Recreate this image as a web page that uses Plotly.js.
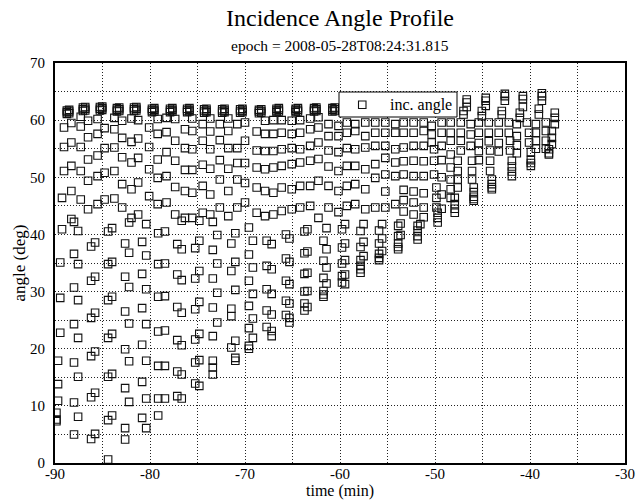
<!DOCTYPE html>
<html>
<head>
<meta charset="utf-8">
<script src="https://cdn.plot.ly/plotly-3.0.1.min.js"></script>
<style>html,body{margin:0;padding:0;background:#fff;}#chart{width:638px;height:501px;}</style>
</head>
<body>
<div id="chart"></div>
<script>
// Each entry of colTime is the time (min) of one column of samples; colAngles holds the incidence angles (deg) read at that time.
const colTime = [
  -89.85, -89.68, -89.45, -89.26, -89.05,
  -88.00, -87.57, -88.28, -87.29,
  -86.20, -85.78, -86.52, -85.52,
  -84.41, -83.99, -84.78, -83.75,
  -82.62, -82.20, -82.93, -81.95,
  -80.83, -80.40, -81.25, -80.09,
  -79.14, -78.43, -79.19, -78.26,
  -77.13, -76.66, -77.35, -76.32,
  -75.24, -74.81, -75.55, -74.45,
  -73.39, -72.92, -73.66, -72.65,
  -71.44, -71.02, -71.76, -70.81, -70.00,
  -69.59, -69.17, -68.77,
  -67.72, -67.19, -67.89, -67.01,
  -65.69, -65.32, -66.14, -65.08,
  -63.74, -63.43, -64.20, -63.14,
  -61.74, -61.42, -62.27, -61.21, -60.16,
  -59.79, -59.47, -59.28, -58.68, -58.40,
  -57.84, -57.52, -57.34, -56.78, -56.29,
  -55.89, -55.57, -55.23, -54.78, -54.18,
  -53.88, -53.62, -53.30, -52.78, -52.25,
  -51.83, -51.54, -51.19, -50.67,
  -50.35, -50.10, -49.85, -49.72, -49.30, -48.66,
  -48.35, -47.92, -47.61, -47.29, -47.00, -46.66,
  -45.92, -46.10, -46.24, -45.39, -45.07, -44.66,
  -44.02, -44.20, -44.34, -43.29, -42.97, -42.65,
  -41.91, -42.10, -42.23, -41.39, -41.07, -40.75,
  -39.91, -40.10, -40.33, -39.38, -39.07, -38.75,
  -38.01, -38.33, -37.70, -37.39
];
const colAngles = [
  [7.3, 7.6, 8.8], [10.9, 13.8, 17.9], [22.8, 28.9, 35.1], [40.9, 46.4], [51.1, 55.3, 58.7],
  [5.0, 10.6, 17.6, 24.3, 30.7, 36.6, 42.2], [8.1, 15.1, 21.9, 28.5, 34.8, 40.6], [42.7, 47.6, 52.0, 56.1, 59.5], [46.1, 51.1, 55.3, 58.9, 60.6],
  [4.2, 11.5, 18.7, 25.4, 31.9, 37.9], [5.1, 12.3, 19.5, 26.3, 32.6, 38.6], [44.4, 49.4, 53.1, 57.0, 59.9], [45.3, 50.2, 53.8, 57.6, 60.2],
  [0.6, 7.5, 15.1, 21.9, 28.5, 34.8, 40.5], [8.3, 15.6, 22.6, 29.1, 35.2, 41.1], [46.1, 50.8, 55.1, 58.6], [46.3, 51.1, 55.2, 58.4, 60.4],
  [4.1, 6.1, 13.1, 19.9, 26.5, 32.6, 38.4], [10.7, 17.8, 24.4, 30.8, 36.8, 42.1], [44.7, 48.8, 53.5, 56.9, 59.9], [42.9, 47.9, 52.6, 56.2, 60.3],
  [7.9, 14.2, 20.7, 27.1, 33.1, 38.7], [6.1, 11.3, 17.9, 24.3, 30.4, 36.3, 41.8], [43.5, 49.1, 53.4, 56.8, 60.0], [46.7, 51.4, 55.3, 58.7],
  [8.3, 11.3, 17.0, 23.0, 29.1, 34.8, 40.2], [11.3, 17.0, 23.2, 29.2, 34.9, 40.5], [45.3, 49.9, 53.1, 57.6, 60.2], [45.6, 50.2, 54.4, 57.9, 60.4],
  [11.7, 16.0, 21.5, 27.3, 33.0, 38.3], [11.3, 15.5, 20.6, 26.3, 32.0, 37.4, 42.4], [43.5, 48.3, 52.9, 56.4, 60.2], [42.9, 47.6, 51.3, 55.1, 58.4],
  [13.9, 17.6, 21.6, 26.9, 32.3, 37.6], [13.5, 18.0, 22.6, 28.2, 33.6, 38.9, 42.4], [42.9, 47.3, 51.3, 54.9, 58.1, 60.3], [43.8, 48.5, 52.2, 56.4, 59.3],
  [15.5, 16.7, 17.9, 22.2, 27.2, 32.3, 37.3, 42.2], [24.6, 29.8, 34.9, 39.9], [43.5, 47.0, 51.5, 54.9, 58.0, 60.3], [44.7, 49.6, 53.0, 56.5, 59.3],
  [20.2, 25.7, 27.0, 33.6, 38.4], [17.9, 18.4, 21.4, 30.3, 35.2, 40.2], [43.2, 47.6, 51.5, 55.1, 58.1, 60.3], [44.7, 49.6, 52.5, 55.1, 59.3], [45.6, 49.0, 52.5, 56.4, 59.6],
  [20.0, 20.5, 23.6, 27.5, 31.9, 36.5, 41.2], [21.9, 25.3, 29.6, 34.2, 38.9], [43.8, 48.2, 51.7, 54.7, 58.0],
  [23.8, 26.7, 30.4, 34.5, 38.9], [22.2, 23.1, 26.0, 29.6, 33.9, 38.3], [43.2, 47.6, 51.4, 54.6, 57.6, 59.9], [43.5, 47.3, 51.7, 54.6, 57.6, 60.0],
  [25.9, 28.4, 31.9, 35.8, 40.0], [24.6, 25.4, 27.9, 31.3, 35.2, 39.3], [44.1, 48.2, 52.0, 54.9, 57.8, 60.0], [44.4, 47.9, 52.3, 55.1, 57.6, 59.9],
  [26.7, 27.9, 30.0, 33.1, 36.7, 40.5], [27.3, 30.1, 33.3, 37.0, 40.9], [44.7, 48.5, 52.6, 54.9, 57.8, 60.0], [45.0, 48.5, 52.9, 55.5, 58.4, 60.3],
  [29.1, 29.5, 30.1, 32.4, 35.4, 38.9], [31.4, 34.2, 37.4, 41.1], [42.9, 49.4, 53.2, 56.1, 58.7, 60.5], [44.7, 48.5, 51.9, 54.7, 57.2, 59.3], [43.9, 47.6, 51.1, 54.4, 57.2, 59.0],
  [31.6, 32.7, 34.9, 37.7, 40.9], [31.3, 33.0, 35.5, 38.4, 41.8], [45.0, 48.5, 52.0, 55.1, 57.8, 59.6], [61.3, 61.9, 62.4], [45.3, 48.8, 52.0, 54.9, 58.1, 59.3],
  [33.3, 33.9, 34.5, 35.5, 37.8, 40.6], [36.2, 38.7, 41.8], [44.4, 47.9, 51.4, 55.2, 57.2, 59.6], [61.3, 61.9, 62.4], [44.7, 49.9, 52.3, 55.5, 57.8, 59.6],
  [35.5, 35.9, 36.6, 38.4, 40.7], [37.1, 39.3, 41.8], [44.7, 47.5, 50.5, 53.4, 55.5, 57.8, 59.6], [61.3, 61.9, 62.4], [45.3, 50.2, 52.6, 54.9, 57.8, 59.3],
  [37.4, 37.8, 38.4, 39.7, 41.5], [39.9, 41.9], [44.0, 46.0, 47.8, 50.5, 52.8, 55.2, 57.8, 59.6], [61.3, 61.9, 62.4], [43.5, 45.6, 47.5, 50.2, 52.9, 55.5, 57.8, 59.6],
  [39.1, 39.7, 40.7, 41.5], [41.8], [43.0, 44.7, 47.2, 50.2, 52.8, 55.5, 58.1, 59.6], [61.3, 62.0, 62.6],
  [56.1, 57.5, 59.0], [50.5, 52.9, 54.9], [44.7, 46.4, 48.2], [42.1, 42.9, 43.8], [44.5, 47.0, 50.0, 53.0, 55.5, 57.8, 59.6], [61.5, 62.2, 63.0],
  [46.4, 47.9, 49.6, 51.7, 54.0, 56.4, 57.8, 59.6], [43.8, 44.5, 45.3, 46.4], [48.2, 49.6, 51.1, 52.9], [54.7, 56.4, 57.8, 59.6], [61.0, 61.6], [62.3, 63.1, 63.6],
  [45.9, 46.2, 46.6, 47.4, 48.2], [49.6, 51.1, 52.9], [55.5, 57.5, 59.3], [53.0, 54.6, 56.0, 57.8, 59.6], [60.7, 61.6], [62.5, 63.4, 63.9],
  [47.9, 48.2, 48.8, 49.6], [51.1, 52.9, 54.7], [56.3, 57.8, 59.6], [54.5, 56.0, 57.8, 59.6], [61.0, 61.6], [63.4, 64.2, 64.6],
  [50.2, 51.0, 51.9, 52.9], [54.7, 56.4], [57.8, 59.6], [54.2, 55.6, 57.2, 59.3], [60.4, 61.3], [62.3, 63.7, 64.2],
  [52.0, 52.5, 53.0, 54.4], [56.1, 57.8], [59.6], [55.0, 56.4, 57.8, 59.3], [61.0, 62.0], [63.4, 64.2, 64.7],
  [54.0, 54.2, 54.9], [55.0, 56.4, 58.1, 59.6], [55.8, 56.9, 58.1], [59.3, 60.4, 61.3]
];
// Dense groups of samples near the top of each early pass (time in min, angles in deg).
const clusterTime = [
  -88.75, -88.51, -87.06, -86.82, -85.27, -85.03, -83.48, -83.24,
  -81.68, -81.44, -79.79, -79.55, -77.89, -77.65, -76.09, -75.85,
  -74.30, -74.06, -72.40, -72.16, -70.51, -70.27, -68.53, -68.29,
  -66.68, -66.44, -64.67, -64.43, -62.73, -62.49, -60.80, -60.56
];
const clusterAngles = [
  [61.1, 61.4, 61.7], [61.2, 61.5, 61.8], [61.6, 61.9, 62.2], [61.7, 62.0, 62.3],
  [61.7, 62.0, 62.3], [61.8, 62.1, 62.4], [61.5, 61.8, 62.1], [61.6, 61.9, 62.2],
  [61.6, 61.9, 62.2], [61.7, 62.0, 62.3], [61.4, 61.7, 62.0], [61.5, 61.8, 62.1],
  [61.4, 61.7, 62.0], [61.5, 61.8, 62.1], [61.4, 61.7, 62.0], [61.5, 61.8, 62.1],
  [61.3, 61.6, 61.9], [61.4, 61.7, 62.0], [61.3, 61.6, 61.9], [61.4, 61.7, 62.0],
  [61.3, 61.6, 61.9], [61.4, 61.7, 62.0], [61.2, 61.5, 61.8], [61.3, 61.6, 61.9],
  [61.4, 61.7, 62.0], [61.5, 61.8, 62.1], [61.4, 61.7, 62.0], [61.5, 61.8, 62.1],
  [61.5, 61.8, 62.1], [61.6, 61.9, 62.2], [61.5, 61.8, 62.1], [61.6, 61.9, 62.2]
];
const xTicks = [-90, -80, -70, -60, -50, -40, -30];
const yTicks = [0, 10, 20, 30, 40, 50, 60, 70];
const seriesName = 'inc. angle';

const times = [], angles = [];
colTime.forEach((t, i) => { colAngles[i].forEach(a => { times.push(t); angles.push(a); }); });
clusterTime.forEach((t, i) => { clusterAngles[i].forEach(a => { times.push(t); angles.push(a); }); });

const font = 'Liberation Serif, Times New Roman, serif';
const trace = {
  x: times, y: angles, type: 'scatter', mode: 'markers', name: seriesName, showlegend: false,
  marker: {symbol: 'square-open', size: 7.5, color: '#111', line: {width: 1.1, color: '#111'}}
};
const gridStyle = {gridcolor: '#222', griddash: '1px,2px', gridwidth: 1};
const axisCommon = Object.assign({
  showline: true, mirror: true, linecolor: '#000', linewidth: 2,
  showgrid: true, zeroline: false, ticks: '', tickfont: {family: font, size: 15, color: '#000'}
}, gridStyle);

// legend box drawn in paper coordinates of the plot area (plot area: 570 x 400 px)
const PW = 570, PH = 400, L = 55, T = 63;
const px = v => (v - L) / PW, py = v => (T + PH - v) / PH;

const layout = {
  width: 638, height: 501,
  paper_bgcolor: '#fff', plot_bgcolor: '#fff',
  margin: {l: L, r: 638 - L - PW, t: T, b: 501 - T - PH},
  font: {family: font, color: '#000'},
  title: {text: 'Incidence Angle Profile', font: {family: font, size: 24, color: '#000'},
          xref: 'paper', x: 0.5, xanchor: 'center', yref: 'container', y: 0.964, yanchor: 'middle'},
  annotations: [
    {text: 'epoch = 2008-05-28T08:24:31.815', xref: 'paper', yref: 'paper', x: 0.5, y: py(45),
     xanchor: 'center', yanchor: 'middle', showarrow: false, font: {family: font, size: 15.5, color: '#000'}},
    {text: seriesName, xref: 'paper', yref: 'paper', x: px(388), y: py(104.5),
     xanchor: 'left', yanchor: 'middle', showarrow: false, font: {family: font, size: 16, color: '#000'}}
  ],
  shapes: [
    {type: 'rect', xref: 'paper', yref: 'paper', x0: px(339), x1: px(457), y0: py(117), y1: py(92),
     fillcolor: '#fff', line: {color: '#000', width: 1}, layer: 'above'},
    {type: 'rect', xref: 'paper', yref: 'paper', x0: px(358.5), x1: px(366), y0: py(108.5), y1: py(101),
     fillcolor: 'rgba(0,0,0,0)', line: {color: '#111', width: 1.1}, layer: 'above'}
  ],
  xaxis: Object.assign({}, axisCommon, {range: [-90, -30], tickvals: xTicks, ticktext: xTicks.map(String),
          ticklabelstandoff: -4,
          minor: Object.assign({showgrid: true, dtick: 5, tick0: -90}, gridStyle),
          title: {text: 'time (min)', font: {family: font, size: 16, color: '#000'}, standoff: 2}}),
  yaxis: Object.assign({}, axisCommon, {range: [0, 70], tickvals: yTicks, ticktext: yTicks.map(String),
          ticklabelstandoff: 5,
          minor: Object.assign({showgrid: true, dtick: 5, tick0: 0}, gridStyle),
          title: {text: 'angle (deg)', font: {family: font, size: 17, color: '#000'}, standoff: 0}}),
  showlegend: false
};
Plotly.newPlot('chart', [trace], layout, {displayModeBar: false, staticPlot: true});
</script>
</body>
</html>
